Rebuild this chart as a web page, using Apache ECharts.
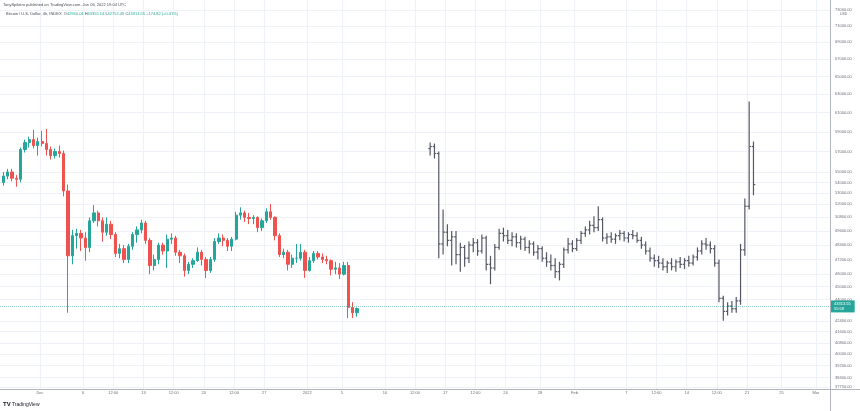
<!DOCTYPE html>
<html><head><meta charset="utf-8">
<script src="https://cdn.jsdelivr.net/npm/echarts@6/dist/echarts.min.js"></script>
<style>html,body{margin:0;padding:0;background:#fff}#c{width:860px;height:411px}</style>
</head><body><div id="c"></div>
<script>
// ---- x ticks (days from Dec 1, 2021) ----
const xTickDays = [0,5,8.5,12,15.5,19,22.5,26,31,35,40,43.5,47,50.5,54,58,62,68,71.5,75,78.5,82,86,90];
const xTickLabels = ['Dec','6','12:00','13','12:00','20','12:00','27','2022','5','10','12:00','17','12:00','24','28','Feb','7','12:00','14','12:00','21','25','Mar'];
// ---- y ticks (price, log scale) ----
const yTickPrices = [73000,71000,69000,67000,65000,63000,61000,59000,57000,55000,54000,53000,52000,50800,49600,48400,47200,46000,45000,44000,42400,41600,40800,40000,39200,38400,37750];

// ---- BTC candles (12h periods, start day) ----
const realDays = [-4.5,-4,-3.5,-3,-2.5,-2,-1.5,-1,-0.5,0,0.5,1,1.5,2,2.5,3,3.5,4,4.5,5,5.5,6,6.5,7,7.5,8,8.5,9,9.5,10,10.5,11,11.5,12,12.5,13,13.5,14,14.5,15,15.5,16,16.5,17,17.5,18,18.5,19,19.5,20,20.5,21,21.5,22,22.5,23,23.5,24,24.5,25,25.5,26,26.5,27,27.5,28,28.5,29,29.5,30,30.5,31,31.5,32,32.5,33,33.5,34,34.5,35,35.5,36,36.5];
const realOpen  = [54000,54600,55000,54400,54300,57200,57900,58200,57600,58000,57800,57200,56600,57000,56800,53200,47500,49200,49400,49000,48200,50500,51200,50500,49500,50200,49300,47700,48100,47200,48300,49300,49700,50300,48800,46700,47200,48400,47900,48900,49000,47800,47500,46300,46800,47100,47800,47200,46300,47200,48700,49000,48800,48300,48900,51000,51200,50800,50700,50800,49900,50500,51300,50800,49200,47600,47800,46800,47300,47300,47800,46300,47100,47700,47400,47200,47100,46400,46500,46000,46700,43400,43000];
const realHigh  = [55000,55300,55300,54700,57400,58200,58500,59200,58400,59100,59300,57500,57300,57600,57100,53800,49700,49800,49700,49500,50800,51900,51400,50800,50800,50500,49500,48500,48400,48500,49500,50000,50600,50500,49000,47600,48600,48600,49300,49400,49200,48000,47700,47000,47300,48200,48000,47400,47400,49000,49400,49300,49000,49100,51300,51700,51400,51200,51000,50900,50700,51600,52000,50900,49400,48100,48000,47600,48500,48500,48000,47400,47900,47900,47700,47500,47200,47000,46900,47000,47000,43800,43400];
const realLow   = [53700,54300,54100,53600,54000,56900,57400,57300,56600,57500,56600,56200,56300,56400,52700,43000,46800,48100,47900,47100,47800,50300,50000,48700,49200,48900,47400,47300,46900,46900,48000,48600,49400,48500,46000,46300,46800,47600,46500,48500,47500,46900,45800,46000,46500,47000,46700,45700,46100,47000,48500,48300,47900,47900,48800,50600,50400,50200,50200,49500,49600,50300,50600,48800,47400,47300,46300,46500,46900,47100,45700,46200,46900,47200,46900,46800,45900,46000,45600,45900,42600,42600,42700];
const realClose = [54600,55000,54400,54300,57200,57900,58200,57600,58000,57800,57200,56600,57000,56800,53200,47500,49200,49400,49000,48200,50500,51200,50500,49500,50200,49300,47700,48100,47200,48300,49300,49700,50300,48800,46700,47200,48400,47900,48900,49000,47800,47500,46300,46800,47100,47800,47200,46300,47200,48700,49000,48800,48300,48900,51000,51200,50800,50700,50800,49900,50500,51300,50800,49200,47600,47800,46800,47300,47300,47800,46300,47100,47700,47400,47200,47100,46400,46500,46000,46700,43400,43000,43313.55];

// ---- projected fractal (grey OHLC bars, 12h periods) ----
const ghostDays = [45,45.5,46,46.5,47,47.5,48,48.5,49,49.5,50,50.5,51,51.5,52,52.5,53,53.5,54,54.5,55,55.5,56,56.5,57,57.5,58,58.5,59,59.5,60,60.5,61,61.5,62,62.5,63,63.5,64,64.5,65,65.5,66,66.5,67,67.5,68,68.5,69,69.5,70,70.5,71,71.5,72,72.5,73,73.5,74,74.5,75,75.5,76,76.5,77,77.5,78,78.5,79,79.5,80,80.5,81,81.5,82,82.5];
const ghostOpen  = [57300,57500,56800,48500,49500,48800,49100,47600,48200,47300,48400,48600,47900,49000,46800,46500,48200,49400,49200,48800,49100,48600,48900,48200,48500,47800,48100,47300,47000,46700,46200,46800,48000,48500,48100,48800,49400,49700,50100,49900,50600,49000,49100,48900,49200,49400,49000,49300,49200,48800,48400,47900,47300,47100,46900,46600,46900,46600,47000,46800,47100,46900,47400,47900,48500,48400,48100,46900,44100,43100,43500,43300,43900,48000,51800,57500];
const ghostHigh  = [57900,57800,57000,51500,50200,49600,49600,48600,48400,48700,49000,48900,49300,49200,47500,48500,49800,49900,49700,49500,49400,49200,49100,48800,48700,48400,48300,47800,47600,47300,47000,48200,49000,48800,49000,49600,50000,50500,50900,51800,50800,49400,49500,49400,49700,49600,49500,49700,49500,49100,48700,48200,47600,47500,47300,47100,47300,47200,47400,47300,47500,47600,48200,48800,49000,48700,48400,47200,44300,43800,43900,44200,48500,52500,62200,58000];
const ghostLow   = [56600,56300,47300,47600,48300,46700,46800,46200,46600,46900,47800,47500,47700,46300,45200,46300,48000,48700,48500,48300,48200,48000,47900,47700,47500,47200,47000,46600,46300,45700,45500,46500,47700,47800,47900,48500,49100,49300,49500,49600,48700,48500,48600,48500,48800,48700,48600,48900,48600,48100,47600,47000,46600,46500,46300,46100,46300,46200,46500,46400,46600,46700,47100,47600,48000,47700,46600,43800,42400,42800,43000,43000,43600,47500,51500,52800];
const ghostClose = [57500,56800,48500,49500,48800,49100,47600,48200,47300,48400,48600,47900,49000,46800,46500,48200,49400,49200,48800,49100,48600,48900,48200,48500,47800,48100,47300,47000,46700,46200,46800,48000,48500,48100,48800,49400,49700,50100,49900,50600,49000,49100,48900,49200,49400,49000,49300,49200,48800,48400,47900,47300,47100,46900,46600,46900,46600,47000,46800,47100,46900,47400,47900,48500,48400,48100,46900,44100,43100,43500,43300,43900,48000,51800,57500,53800];

const UP = '#26a69a', DOWN = '#ef5350', GREY = '#555864';
const LN = Math.log;
const lastClose = realClose[realClose.length - 1];

const candleData = realDays.map((d, i) => [d + 0.25, LN(realOpen[i]), LN(realClose[i]), LN(realLow[i]), LN(realHigh[i])]);
const ghostData = ghostDays.map((d, i) => [d + 0.25, LN(ghostOpen[i]), LN(ghostHigh[i]), LN(ghostLow[i]), LN(ghostClose[i])]);

// axis calibration (pixels per day / per log unit)
const PX_DAY = 8.622, PX_LOG = 572;
const xMin = -40 / PX_DAY, xMax = xMin + 830 / PX_DAY;
const yMax = LN(73000) + 10 / PX_LOG, yMin = yMax - 389 / PX_LOG;

const FONT = 'Liberation Sans, Arial, sans-serif';
const chart = echarts.init(document.getElementById('c'), null, {renderer: 'canvas'});
chart.setOption({
  animation: false,
  backgroundColor: '#ffffff',
  textStyle: {fontFamily: FONT},
  title: [
    {left: 3, top: 3, padding: 0, text: 'TonySpilotro published on TradingView.com, Jan 06, 2022 19:04 UTC',
     textStyle: {fontSize: 4, color: '#4a4d57', fontWeight: 'normal', fontFamily: FONT}},
    {left: 6, top: 12, padding: 0,
     text: '{g|Bitcoin / U.S. Dollar, 4h, INDEX  O}{v|42960.04}{g| H}{v|43355.14}{g| L}{v|42752.49}{g| C}{v|43313.55}{v| +174.82 (+0.41%)}',
     textStyle: {fontSize: 4, fontWeight: 'normal', rich: {g: {fontSize: 4, color: '#4a4d57', fontFamily: FONT}, v: {fontSize: 4, color: UP, fontFamily: FONT}}}}
  ],
  grid: {left: 0, right: 30, top: 0, bottom: 22},
  xAxis: {
    type: 'value', min: xMin, max: xMax,
    axisLine: {show: true, onZero: false, lineStyle: {color: '#b2b5be', width: 1}},
    axisTick: {show: false, customValues: xTickDays},
    splitLine: {show: true, lineStyle: {color: '#eef1f7', width: 1}},
    axisLabel: {
      customValues: xTickDays, fontSize: 4, color: '#6a6d78', margin: 2, fontFamily: FONT,
      formatter: v => { const i = xTickDays.findIndex(t => Math.abs(t - v) < 1e-6); return i >= 0 ? xTickLabels[i] : ''; }
    }
  },
  yAxis: {
    type: 'value', position: 'right', min: yMin, max: yMax, scale: true,
    axisLine: {show: true, onZero: false, lineStyle: {color: '#b2b5be', width: 1}},
    axisTick: {show: false, customValues: yTickPrices.map(LN)},
    splitLine: {show: true, lineStyle: {color: '#eef1f7', width: 1}},
    axisLabel: {
      customValues: yTickPrices.map(LN), fontSize: 4, color: '#6a6d78', margin: 5, fontFamily: FONT,
      formatter: v => Math.round(Math.exp(v)).toFixed(2)
    }
  },
  series: [
    {
      type: 'candlestick', name: 'BTCUSD',
      data: candleData, encode: {x: 0, y: [1, 2, 3, 4]},
      barWidth: 2.8,
      itemStyle: {color: UP, color0: DOWN, borderColor: UP, borderColor0: DOWN, borderWidth: 1},
      markLine: {
        silent: true, symbol: 'none', animation: false,
        data: [{yAxis: LN(lastClose)}],
        lineStyle: {color: 'rgba(38,166,154,0.5)', type: 'dotted', width: 1},
        label: {show: true, position: 'end', distance: 1, formatter: lastClose.toFixed(2) + '\n55:58',
                backgroundColor: UP, color: '#ffffff', fontSize: 4, lineHeight: 5, padding: [1, 4, 1, 3], fontFamily: FONT}
      }
    },
    {
      type: 'custom', name: 'fractal',
      data: ghostData, encode: {x: 0, y: [1, 2, 3, 4]},
      renderItem: (params, api) => {
        const x = api.value(0);
        const o = api.coord([x, api.value(1)]);
        const h = api.coord([x, api.value(2)]);
        const l = api.coord([x, api.value(3)]);
        const c = api.coord([x, api.value(4)]);
        const t = 1.8, st = {stroke: GREY, lineWidth: 1.2};
        return {type: 'group', children: [
          {type: 'line', shape: {x1: h[0], y1: h[1], x2: l[0], y2: l[1]}, style: st},
          {type: 'line', shape: {x1: o[0] - t, y1: o[1], x2: o[0], y2: o[1]}, style: st},
          {type: 'line', shape: {x1: c[0], y1: c[1], x2: c[0] + t, y2: c[1]}, style: st}
        ]};
      }
    }
  ],
  graphic: [
    {type: 'line', shape: {x1: 830.5, y1: 389, x2: 830.5, y2: 411}, style: {stroke: '#b2b5be', lineWidth: 1}},
    {type: 'line', shape: {x1: 830, y1: 389.5, x2: 860, y2: 389.5}, style: {stroke: '#b2b5be', lineWidth: 1}},
    {type: 'text', left: 840, top: 12, style: {text: 'USD', fontSize: 3.5, fill: '#6a6d78', fontFamily: FONT}},
    {type: 'text', left: 3, top: 401, style: {text: 'TV', fontSize: 6, fontWeight: 'bold', fill: '#131722', fontFamily: FONT}},
    {type: 'text', left: 12, top: 402, style: {text: 'TradingView', fontSize: 5, fill: '#131722', fontFamily: FONT}}
  ]
});
</script>
</body></html>
